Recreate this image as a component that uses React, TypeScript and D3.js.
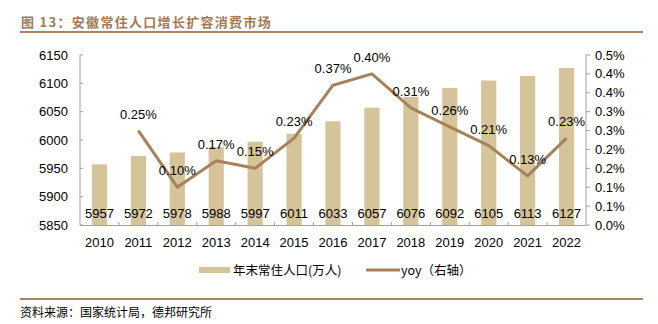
import React from "react";
import * as d3 from "d3";

const years = ["2010","2011","2012","2013","2014","2015","2016","2017","2018","2019","2020","2021","2022"];
const population = [5957,5972,5978,5988,5997,6011,6033,6057,6076,6092,6105,6113,6127];
const yoy = [null,0.25,0.10,0.17,0.15,0.23,0.37,0.40,0.31,0.26,0.21,0.13,0.23];
const leftTicks = [5850,5900,5950,6000,6050,6100,6150];
const rightTicks = [0,0.05,0.10,0.15,0.20,0.25,0.30,0.35,0.40,0.45];
const rightTickLabels = ["0.0%","0.1%","0.1%","0.2%","0.2%","0.3%","0.3%","0.4%","0.4%","0.5%"];
const title = "图 13：安徽常住人口增长扩容消费市场";
const legendBar = "年末常住人口(万人)";
const legendLine = "yoy（右轴）";
const source = "资料来源：国家统计局，德邦研究所";

const W = 658, H = 324;
const left = 80, right = 586, top = 55, bottom = 225;
const barColor = "#D5C39A";
const lineColor = "#A5825A";
const brown = "#A98362";
const axisColor = "#A0A0A0";
const numFont = "'Liberation Sans', Arial, sans-serif";
const cjkFont = "'Noto Sans CJK SC', sans-serif";

export default function App() {
  const x = d3.scaleBand<string>().domain(years).range([left, right]).paddingInner(0.61).paddingOuter(0.305);
  const yL = d3.scaleLinear().domain([5850, 6150]).range([bottom, top]);
  const yR = d3.scaleLinear().domain([0, 0.45]).range([bottom, top]);
  const cx = (y: string) => (x(y) as number) + x.bandwidth() / 2;
  const pts = years.map((yr, i) => ({ yr, v: yoy[i] })).filter(d => d.v !== null) as { yr: string; v: number }[];
  const line = d3.line<{ yr: string; v: number }>().x(d => cx(d.yr)).y(d => yR(d.v));
  const step = x.step();

  return (
    <svg width={W} height={H} style={{ position: "absolute", left: 0, top: 0 }}>
      <rect x={0} y={0} width={W} height={H} fill="#fff" />
      <text x={21} y={27} fontFamily={cjkFont} fontSize={13} fontWeight="bold" letterSpacing={1.3} fill="#A27A55">{title}</text>
      <line x1={20} x2={643} y1={32} y2={32} stroke={brown} strokeWidth={2} />

      {/* bars */}
      {years.map((yr, i) => (
        <rect key={yr} x={x(yr)} y={yL(population[i])} width={x.bandwidth()} height={bottom - yL(population[i])} fill={barColor} />
      ))}

      {/* axes */}
      <line x1={left} x2={left} y1={top} y2={bottom} stroke={axisColor} />
      <line x1={right} x2={right} y1={top} y2={bottom} stroke={axisColor} />
      <line x1={left} x2={right} y1={bottom + 0.5} y2={bottom + 0.5} stroke={axisColor} />
      {leftTicks.map(t => (
        <g key={t}>
          <line x1={left} x2={left + 3} y1={yL(t)} y2={yL(t)} stroke={axisColor} />
          <text x={68} y={yL(t)} dy="0.35em" textAnchor="end" fontFamily={numFont} fontSize={13} fill="#000">{t}</text>
        </g>
      ))}
      {rightTicks.map((t, i) => (
        <g key={t}>
          <line x1={right} x2={right + 4} y1={yR(t)} y2={yR(t)} stroke={axisColor} />
          <text x={595} y={yR(t)} dy="0.35em" textAnchor="start" fontFamily={numFont} fontSize={13} fill="#000">{rightTickLabels[i]}</text>
        </g>
      ))}
      {years.slice(1).map(yr => (
        <line key={yr} x1={(x(yr) as number) - (step - x.bandwidth()) / 2} x2={(x(yr) as number) - (step - x.bandwidth()) / 2} y1={bottom} y2={bottom - 3} stroke={axisColor} />
      ))}
      {years.map(yr => (
        <text key={yr} x={cx(yr)} y={247} textAnchor="middle" fontFamily={numFont} fontSize={13} fill="#000">{yr}</text>
      ))}

      {/* bar labels */}
      {years.map((yr, i) => (
        <text key={yr} x={cx(yr)} y={218} textAnchor="middle" fontFamily={numFont} fontSize={13} fill="#000">{population[i]}</text>
      ))}

      {/* line */}
      <path d={line(pts) || ""} fill="none" stroke={lineColor} strokeWidth={3} strokeLinejoin="round" />
      {pts.map(d => (
        <text key={d.yr} x={cx(d.yr)} y={yR(d.v) - 12} textAnchor="middle" fontFamily={numFont} fontSize={13} fill="#000">{d.v.toFixed(2)}%</text>
      ))}

      {/* legend */}
      <rect x={199} y={267} width={31} height={6} fill={barColor} />
      <text x={233} y={274.5} fontFamily={cjkFont} fontSize={12.5} fill="#000">{legendBar}</text>
      <line x1={366} x2={400} y1={270} y2={270} stroke={lineColor} strokeWidth={3} />
      <text x={401} y={274.5} fontFamily={cjkFont} fontSize={12.5} fill="#000">{legendLine}</text>

      <line x1={20} x2={643} y1={299} y2={299} stroke={brown} strokeWidth={2} />
      <text x={20} y={317} fontFamily={cjkFont} fontSize={12} fill="#000">{source}</text>
    </svg>
  );
}
